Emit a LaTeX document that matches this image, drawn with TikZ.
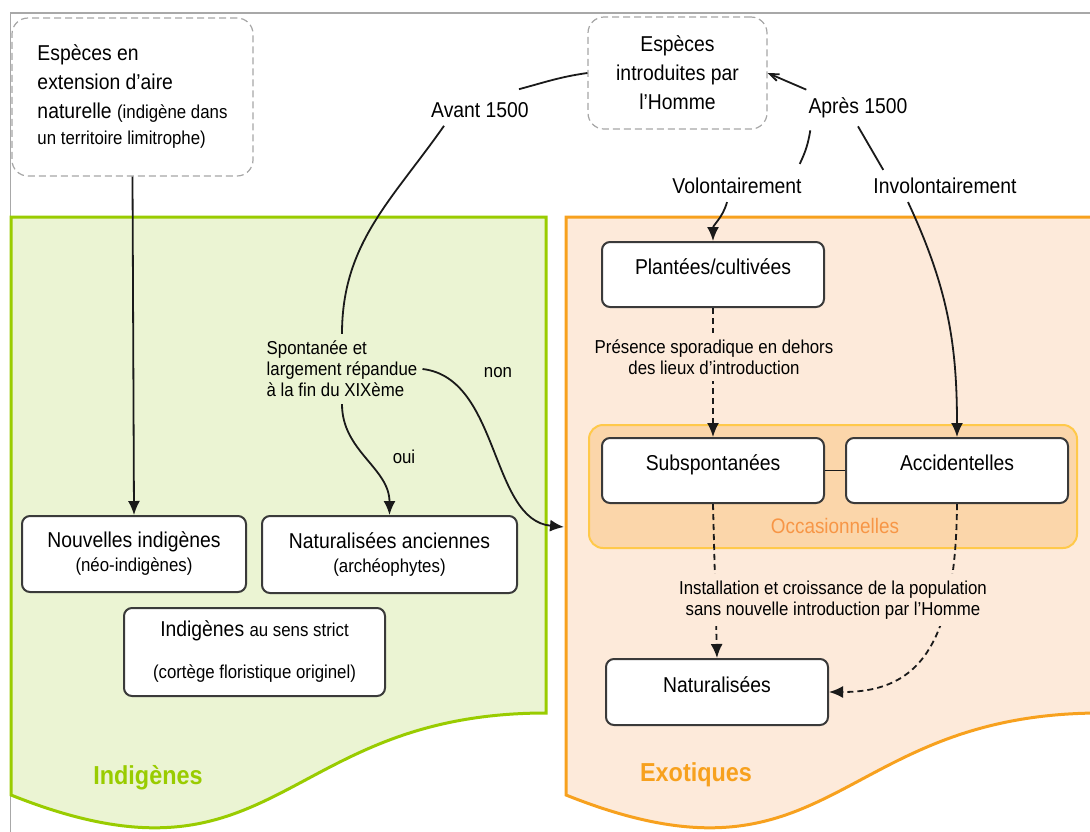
\documentclass[tikz,border=0pt]{standalone}
\usepackage{fontspec}
\setmainfont[FakeStretch=0.9]{Liberation Sans}
\usetikzlibrary{arrows.meta}

\definecolor{boxline}{HTML}{3A3A3A}
\definecolor{ghostline}{HTML}{A6A6A6}
\definecolor{linecol}{HTML}{1A1A1A}
\definecolor{framegray}{HTML}{A8A8A8}
\definecolor{greenfill}{HTML}{EBF4D3}
\definecolor{greenline}{HTML}{99CC00}
\definecolor{orangefill}{HTML}{FDEADA}
\definecolor{orangeline}{HTML}{F7A11E}
\definecolor{occfill}{HTML}{FBD6AA}
\definecolor{occline}{HTML}{FFC94A}
\definecolor{occtext}{HTML}{F79646}

\newcommand\fsmain{\fontsize{21.5}{29}\selectfont}
\newcommand\fssmall{\fontsize{18.7}{21}\selectfont}
\newcommand\fsbig{\fontsize{26}{30}\selectfont\bfseries}

\begin{document}
\begin{tikzpicture}[x=1pt, y=1pt, >={Latex[length=14pt,width=12pt]},
    box/.style={draw=boxline, line width=2pt, fill=white, rounded corners=8pt,
      inner sep=0pt, align=center, minimum width=222pt, minimum height=65pt},
    onebox/.style={box, text height=15pt, text depth=15pt},
    ghost/.style={draw=ghostline, line width=1.2pt, dash pattern=on 7pt off 4pt,
      rounded corners=16pt, inner sep=0pt},
    tag/.style={inner xsep=2pt, inner ysep=8pt},
    note/.style={font=\fssmall, inner xsep=5pt, inner ysep=7pt},
    link/.style={line width=1.8pt, draw=linecol},
    dlink/.style={link, dash pattern=on 6pt off 4pt},
    region/.style={line width=3pt}]
  \tikzstyle{every node}=[font=\fsmain]
  \useasboundingbox (0,0) rectangle (1090,-831);
  \clip (0,0) rectangle (1090,-831);

  % frame and the two domains
  \draw[framegray, line width=1.5pt] (10.5,-840) -- (10.5,-13) -- (1100,-13);
  \draw[region, draw=greenline, fill=greenfill] (11,-217) -- (546,-217) -- (546,-713)
    .. controls (278.5,-713) and (278.5,-902) .. (11,-795) -- cycle;
  \draw[region, draw=orangeline, fill=orangefill] (566,-217) -- (1101,-217) -- (1101,-713)
    .. controls (833.5,-713) and (833.5,-902) .. (566,-795) -- cycle;

  % occasionnelles group
  \node[draw=occline, fill=occfill, line width=2pt, rounded corners=14pt,
    minimum width=488pt, minimum height=123pt] (occas) at (833,-486.5) {};
  \node[font=\fontsize{21}{25}\selectfont, text=occtext] (occlabel) at (835,-526) {Occasionnelles};

  % origins
  \node[ghost, minimum width=241pt, minimum height=158pt, align=left] (ext) at (132.5,-97)
    {Espèces en\\extension d’aire\\naturelle {\fssmall (indigène dans}\\[-3pt]{\fssmall un territoire limitrophe)}};
  \node[ghost, minimum width=179pt, minimum height=112pt, align=center] (intro) at (677.5,-73)
    {Espèces\\introduites par\\l’Homme};

  % indigenous side
  \node[box, minimum width=224pt, minimum height=76pt] (nouv) at (134,-554)
    {Nouvelles indigènes\\[-5pt]{\fssmall (néo-indigènes)}};
  \node[box, minimum width=255pt, minimum height=77pt] (anc) at (389.5,-554.5)
    {Naturalisées anciennes\\[-5pt]{\fssmall (archéophytes)}};
  \node[box, minimum width=261pt, minimum height=88pt] (strict) at (254.5,-652)
    {Indigènes {\fssmall au sens strict}\\[13pt]{\fssmall (cortège floristique originel)}};

  % exotic side
  \node[onebox] (plant) at (713,-274.5) {Plantées/cultivées};
  \node[onebox] (subsp) at (713,-470.5) {Subspontanées};
  \node[onebox] (accid) at (957,-470.5) {Accidentelles};
  \node[onebox, minimum height=66pt] (natur) at (717,-692) {Naturalisées};

  % labels along the paths
  \node[tag] (avant) at (480,-110) {Avant 1500};
  \node[tag] (apres) at (858,-108) {Après 1500};
  \node[tag] (volont) at (737,-186) {Volontairement};
  \node[tag] (invol) at (945,-186) {Involontairement};
  \node[note, align=left] (spont) at (342,-369) {Spontanée et\\largement répandue\\à la fin du XIXème};
  \node[note] (non) at (498,-373) {non};
  \node[note] (oui) at (404,-457) {oui};
  \coordinate (exoin) at (564,-527);

  % connectors
  \draw[link] (intro.west) to[out=188,in=15] ([xshift=-12pt,yshift=5pt]avant.north east);
  \draw[link] ([xshift=15pt]avant.south west) to[out=235,in=90] (spont.north);
  \draw[link,->] (spont.south) to[out=-90,in=90] (anc.north);
  \draw[link,->] (spont.east) .. controls (500,-378) and (490,-520) .. (exoin);
  \draw[link,-{Straight Barb[length=9pt,width=7pt]}] (apres.north west) -- (intro.east);
  \draw[link] ([xshift=4pt,yshift=-4pt]apres.south west) to[bend left=8] ([xshift=-4pt,yshift=6pt]volont.north east);
  \draw[link] (apres.south) -- ([xshift=12pt]invol.north west);
  \draw[link,->] ([xshift=-10pt]volont.south) to[out=-105,in=90] (plant.north);
  \draw[link,->] ([xshift=-37pt]invol.south) to[out=-65,in=90] (accid.north);
  \draw[link,->] (ext.south) -- (nouv.north);
  \draw[link] (subsp.east) -- (accid.west);
  \draw[dlink,->] (plant.south) -- (subsp.north);
  \draw[dlink,->] (subsp.south) -- (natur.north);
  \draw[dlink,->] (accid.south) .. controls (956,-655) and (912,-692) .. (natur.east);

  % notes over the dashed paths
  \node[note, fill=orangefill, align=center] (pres) at (714,-357)
    {Présence sporadique en dehors\\des lieux d’introduction};
  \node[note, fill=orangefill, align=center] (inst) at (833,-600)
    {Installation et croissance de la population\\sans nouvelle introduction par l’Homme};

  % domain names
  \node[text=greenline, font=\fsbig] (indiglabel) at (148,-778) {Indigènes};
  \node[text=orangeline, font=\fsbig] (exotlabel) at (696,-775) {Exotiques};
\end{tikzpicture}
\end{document}
